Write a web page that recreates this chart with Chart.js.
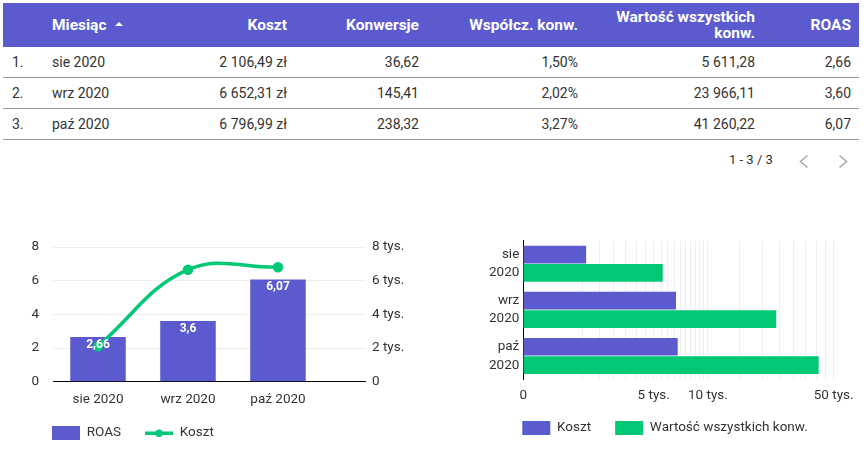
<!DOCTYPE html>
<html lang="pl">
<head>
<meta charset="utf-8">
<script src="https://cdn.jsdelivr.net/npm/chart.js@4.4.0/dist/chart.umd.min.js"></script>
<style>
  body { margin: 0; width: 864px; height: 458px; background: #fff; font-family: Roboto, sans-serif; color: #333; position: relative; overflow: hidden; }
  table { position: absolute; left: 3px; top: 3px; width: 856px; border-collapse: collapse; table-layout: fixed; font-size: 14px; }
  th { background: #5b5bcf; color: #fff; font-weight: bold; font-size: 15.5px; height: 44px; padding: 0 8px; text-align: right; line-height: 16px; }
  td { height: 30px; padding: 0 8px; text-align: right; border-bottom: 1px solid #999; }
  th.l, td.l { text-align: left; padding-left: 12px; }
  th.n, td.n { text-align: left; padding-left: 9px; }
  .sort { display: inline-block; margin-left: 9px; vertical-align: middle; border-left: 4px solid transparent; border-right: 4px solid transparent; border-bottom: 4px solid #fff; position: relative; top: -2px; }
  #pager { position: absolute; left: 729px; top: 152px; font-size: 13px; color: #333; }
  #pager svg { position: absolute; top: 2px; }
  .box { position: absolute; top: 230px; width: 432px; height: 228px; }
</style>
</head>
<body>
<table id="tbl">
  <colgroup>
    <col style="width:37px"><col style="width:110px"><col style="width:145px"><col style="width:132px">
    <col style="width:159px"><col style="width:177px"><col style="width:96px">
  </colgroup>
  <thead>
    <tr>
      <th class="n"></th>
      <th class="l">Miesiąc<span class="sort"></span></th>
      <th>Koszt</th>
      <th>Konwersje</th>
      <th>Współcz. konw.</th>
      <th>Wartość wszystkich<br>konw.</th>
      <th>ROAS</th>
    </tr>
  </thead>
  <tbody id="rows"></tbody>
</table>
<div id="pager">1 - 3 / 3
  <svg style="left:70px" width="10" height="15"><polyline points="8.5,1.5 1.5,7.5 8.5,13.5" fill="none" stroke="#aaa" stroke-width="1.6"/></svg>
  <svg style="left:109px" width="10" height="15"><polyline points="1.5,1.5 8.5,7.5 1.5,13.5" fill="none" stroke="#aaa" stroke-width="1.6"/></svg>
</div>
<div class="box" style="left:0"><canvas id="comboChart" width="432" height="228"></canvas></div>
<div class="box" style="left:432px"><canvas id="hbarChart" width="432" height="228"></canvas></div>
<script>
const months = ['sie 2020', 'wrz 2020', 'paź 2020'];
const koszt = [2106.49, 6652.31, 6796.99];
const konwersje = [36.62, 145.41, 238.32];
const wspolczynnik = [1.50, 2.02, 3.27];
const wartosc = [5611.28, 23966.11, 41260.22];
const roas = [2.66, 3.60, 6.07];

// osie wykresu poziomego (skala log)
const logMin = 943;
const logMax = 50000;
const logGrid = [2000, 2500, 3000, 3500, 4000, 4500, 5000, 5500, 6000, 6500, 7000, 7500, 8000, 8500, 9000, 9500,
                 10000, 15000, 20000, 25000, 30000, 35000, 40000, 45000, 50000];
const logTickValues = [logMin, 5000, 10000, 50000];
const logTickLabels = ['0', '5 tys.', '10 tys.', '50 tys.'];

const purple = '#5b5bcf';
const green = '#00c875';
const textColor = '#333';

Chart.defaults.font.family = 'Roboto';
Chart.defaults.font.size = 13.5;
Chart.defaults.color = textColor;

function fmt(v, d) {
    const parts = v.toFixed(d).split('.');
    return parts[0].replace(/\B(?=(\d{3})+(?!\d))/g, ' ') + (parts[1] ? ',' + parts[1] : '');
}

let html = '';
for (let i = 0; i < months.length; i++) {
    html += '<tr><td class="n">' + (i + 1) + '.</td><td class="l">' + months[i] + '</td>' +
        '<td>' + fmt(koszt[i], 2) + ' zł</td><td>' + fmt(konwersje[i], 2) + '</td>' +
        '<td>' + fmt(wspolczynnik[i], 2) + '%</td><td>' + fmt(wartosc[i], 2) + '</td>' +
        '<td>' + fmt(roas[i], 2) + '</td></tr>';
}
document.getElementById('rows').innerHTML = html;

// legenda wyrównana do obszaru wykresu
const legendShift = {
    id: 'legendShift',
    afterLayout(chart, args, opts) {
        const lg = chart.legend;
        const p = lg.options.labels.padding;
        const dx = chart.chartArea.left - 1 - p - lg.left;
        const dy = opts.y - p - opts.h / 2 - lg.top;
        lg.left += dx; lg.right += dx;
        lg.top += dy; lg.bottom += dy;
    }
};

const barValues = {
    id: 'barValues',
    afterDatasetsDraw(chart) {
        const ctx = chart.ctx;
        const meta = chart.getDatasetMeta(0);
        ctx.save();
        ctx.font = 'bold 12px Roboto';
        ctx.fillStyle = '#fff';
        ctx.textAlign = 'center';
        ctx.textBaseline = 'middle';
        meta.data.forEach((bar, i) => {
            ctx.fillText(String(roas[i]).replace('.', ','), bar.x, bar.y + 8);
        });
        ctx.restore();
    }
};

function noPad(s) {
    s.paddingTop = 0; s.paddingBottom = 0; s.paddingLeft = 0; s.paddingRight = 0;
}

function marker(kind, color) {
    const c = document.createElement('canvas');
    c.width = 28; c.height = 14;
    const g = c.getContext('2d');
    g.fillStyle = color;
    if (kind === 'box') {
        g.fillRect(0, 0, 28, 14);
    } else {
        g.fillRect(0, 5.5, 28, 3.5);
        g.beginPath();
        g.arc(14, 7.25, 3.8, 0, Math.PI * 2);
        g.fill();
    }
    return c;
}
const comboMarkers = [marker('box', purple), marker('line', green)];

function comboChart() {
    const ctx = document.getElementById('comboChart');
    new Chart(ctx, {
        type: 'bar',
        data: {
            datasets: [{
                type: 'bar',
                label: 'ROAS',
                data: roas.map((v, i) => ({x: i, y: v})),
                backgroundColor: purple,
                yAxisID: 'y',
                order: 1,
                categoryPercentage: 1,
                barPercentage: 0.617
            }, {
                type: 'line',
                label: 'Koszt',
                data: koszt.map((v, i) => ({x: i, y: v})),
                borderColor: green,
                backgroundColor: green,
                borderWidth: 3.5,
                pointRadius: 3.5,
                tension: 0.4,
                yAxisID: 'y1',
                order: 0
            }]
        },
        options: {
            responsive: false,
            animation: false,
            layout: {padding: {left: 0, right: 0, top: 17, bottom: 0}},
            scales: {
                x: {
                    type: 'linear',
                    offset: false,
                    min: -0.5,
                    max: 2.967,
                    grid: {display: false, drawTicks: false},
                    border: {color: '#000', width: 1},
                    afterBuildTicks: (s) => { s.ticks = months.map((m, i) => ({value: i})); },
                    ticks: {padding: 10, maxRotation: 0, autoSkip: false, callback: (v) => months[v]},
                    afterFit: (s) => { s.height = 28.8; noPad(s); }
                },
                y: {
                    position: 'left',
                    min: 0,
                    max: 8,
                    grid: {color: '#eeeeee', drawTicks: false},
                    border: {display: false},
                    ticks: {stepSize: 1, padding: 14, callback: (v) => (v % 2 === 0 ? v : '')},
                    afterFit: (s) => { s.width = 53; noPad(s); }
                },
                y1: {
                    position: 'right',
                    min: 0,
                    max: 8000,
                    grid: {display: false, drawTicks: false},
                    border: {display: false},
                    ticks: {stepSize: 2000, padding: 7, callback: (v) => (v === 0 ? '0' : v / 1000 + ' tys.')},
                    afterFit: (s) => { s.width = 67; noPad(s); }
                }
            },
            plugins: {
                tooltip: {enabled: false},
                legend: {
                    position: 'bottom',
                    align: 'start',
                    labels: {
                        usePointStyle: true,
                        pointStyleWidth: 28,
                        padding: 24,
                        color: textColor,
                        generateLabels: (chart) => chart.data.datasets.map((ds, i) => ({
                            text: ds.label,
                            pointStyle: comboMarkers[i],
                            datasetIndex: i,
                            fontColor: textColor,
                            lineWidth: 0,
                            hidden: false
                        }))
                    }
                },
                legendShift: {y: 203, h: 13.5}
            }
        },
        plugins: [legendShift, barValues]
    });
}

function hbarChart() {
    const ctx = document.getElementById('hbarChart');
    new Chart(ctx, {
        type: 'bar',
        data: {
            labels: months.map((m) => m.split(' ')),
            datasets: [{
                label: 'Koszt',
                data: koszt,
                backgroundColor: purple,
                categoryPercentage: 0.8,
                barPercentage: 0.96
            }, {
                label: 'Wartość wszystkich konw.',
                data: wartosc,
                backgroundColor: green,
                categoryPercentage: 0.8,
                barPercentage: 0.96
            }]
        },
        options: {
            indexAxis: 'y',
            responsive: false,
            animation: false,
            layout: {padding: {left: 0, right: 30.3, top: 10.7, bottom: 0}},
            scales: {
                x: {
                    type: 'logarithmic',
                    min: logMin,
                    max: logMax,
                    grid: {color: '#eeeeee', drawTicks: false},
                    border: {display: false},
                    afterBuildTicks: (s) => { s.ticks = [logMin].concat(logGrid).map((v) => ({value: v})); },
                    ticks: {
                        padding: 9,
                        autoSkip: false,
                        maxRotation: 0,
                        callback: (v) => {
                            const k = logTickValues.indexOf(v);
                            return k < 0 ? '' : logTickLabels[k];
                        }
                    },
                    afterFit: (s) => { s.height = 31; noPad(s); }
                },
                y: {
                    grid: {display: false, drawTicks: false},
                    border: {color: '#000', width: 1},
                    ticks: {padding: 4, font: {size: 13.5, lineHeight: 1.36}},
                    afterFit: (s) => { s.width = 91.3; noPad(s); }
                }
            },
            plugins: {
                tooltip: {enabled: false},
                legend: {
                    position: 'bottom',
                    align: 'start',
                    labels: {boxWidth: 28, boxHeight: 14, padding: 24, color: textColor}
                },
                legendShift: {y: 198, h: 14}
            }
        },
        plugins: [legendShift]
    });
}

comboChart();
hbarChart();
</script>
</body>
</html>
